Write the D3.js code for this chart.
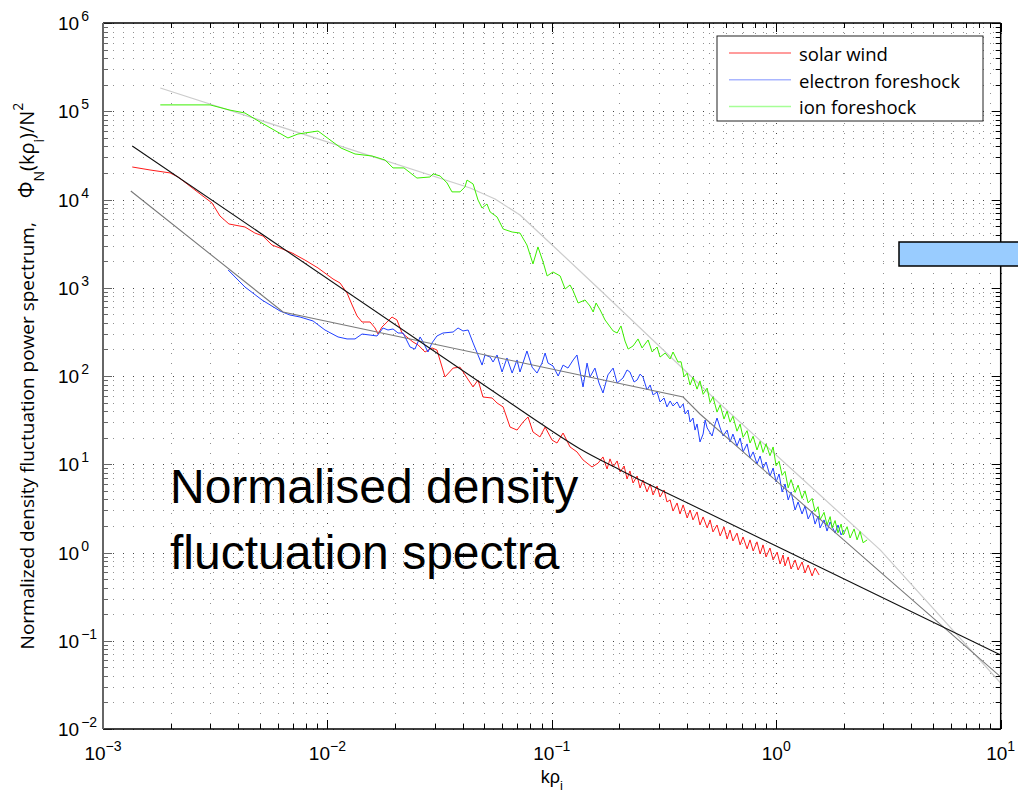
<!DOCTYPE html>
<html>
<head>
<meta charset="utf-8">
<script src="https://cdn.jsdelivr.net/npm/d3@7"></script>
<style>
  body { margin: 0; background: #fff; }
  svg { display: block; }
</style>
</head>
<body>
<div id="chart"></div>
<script>
/* Normalised density fluctuation spectra, log-log */

// axis decades (tick labels are 10^n)
const xTickExps = [-3, -2, -1, 0, 1];
const yTickExps = [-2, -1, 0, 1, 2, 3, 4, 5, 6];

// measured spectra, [k rho_i, Phi_N / N^2]
const solarWind = [
  [0.00135,2.335e4],[0.00162,2.16e4],[0.00199,2.00e4],[0.00216,1.80e4],[0.00257,1.28e4],[0.00306,9130],
  [0.00332,6500],[0.00364,5280],[0.00429,4880],[0.00475,4170],[0.00516,3860],[0.00566,3050],[0.00615,2820],
  [0.00695,2480],[0.00794,2060],[0.00908,1675],[0.01059,1257],[0.01138,1132],[0.01223,872],[0.01288,638],
  [0.01355,479],[0.01426,409],[0.01549,409],[0.0163,350],[0.0168,299],[0.0175,359],[0.01845,409],[0.0194,466],
  [0.02042,431],[0.02149,307],[0.02286,270],[0.02405,243],[0.02535,225],[0.02723,187],[0.02924,208],[0.03076,197],
  [0.03342,97.5],[0.03631,123],[0.039,126],[0.04188,95],[0.04457,75.1],[0.04688,90.1],[0.04932,57.8],[0.0542,56.3],
  [0.057,49.4],[0.06067,44.6],[0.06511,26.4],[0.06998,24.4],[0.07447,30.1],[0.07834,34.3],[0.08241,23.2],
  [0.08851,20.4],[0.09333,26.4],[0.1002,18.8],[0.1054,17.4],[0.1122,22.6],[0.1205,15.7],[0.1294,13.8],
  [0.1377,11.2],[0.151,9.31],[0.1607,10.3],[0.169,12.1],[0.1762,8.84],[0.1816,11.5],[0.1875,9.31],[0.1954,10.9],
  [0.2014,8.17],[0.2099,9.56],[0.2163,6.81],[0.2228,8.39],[0.2301,6.13],[0.2399,7.36],[0.2472,5.38],[0.2547,6.63],
  [0.2655,4.85],[0.2742,5.97],[0.2825,4.48],[0.2944,5.67],[0.3034,4.26],[0.3162,5.11],[0.3258,3.74],[0.3365,3.94],
  [0.3467,2.95],[0.3614,3.64],[0.3724,2.73],[0.3846,3.46],[0.4009,2.46],[0.413,3.03],[0.4256,2.34],[0.4436,2.88],
  [0.4571,2.05],[0.4721,2.53],[0.492,1.90],[0.507,2.34],[0.5224,1.71],[0.5445,2.05],[0.5623,1.54],[0.5848,1.95],
  [0.6039,1.42],[0.6223,1.80],[0.6412,1.35],[0.6683,1.66],[0.6899,1.22],[0.7112,1.50],[0.7412,1.10],[0.7638,1.39],
  [0.7889,1.04],[0.8204,1.32],[0.8472,0.962],[0.873,1.22],[0.9006,0.890],[0.9376,1.125],[0.9683,0.823],
  [1.009,1.01],[1.04,0.741],[1.072,0.937],[1.094,0.704],[1.13,0.890],[1.164,0.650],[1.213,0.823],[1.251,0.634],
  [1.303,0.781],[1.343,0.586],[1.387,0.722],[1.444,0.542],[1.489,0.668],[1.552,0.556]
];

const electronForeshock = [
  [0.00361,1590],[0.00429,1020],[0.00511,727],[0.00615,545],[0.00681,491],[0.00755,466],[0.00863,420],
  [0.00975,332],[0.01115,277],[0.01223,263],[0.01327,263],[0.01426,299],[0.01549,291],[0.01663,284],[0.01769,350],
  [0.01862,332],[0.0196,341],[0.02065,307],[0.02173,307],[0.02335,213],[0.02455,202],[0.02588,277],[0.02667,243],
  [0.02805,187],[0.02924,237],[0.03076,284],[0.03273,307],[0.03631,315],[0.0382,350],[0.04018,324],[0.04236,332],
  [0.04457,237],[0.04688,173],[0.04887,133],[0.05035,173],[0.05309,164],[0.0547,144],[0.057,173],[0.06,111],
  [0.0631,160],[0.06653,108],[0.06998,152],[0.07211,111],[0.07745,192],[0.08166,126],[0.0859,108],[0.09036,140],
  [0.09333,182],[0.09616,140],[0.1012,130],[0.1067,100],[0.1122,133],[0.118,123],[0.1245,152],[0.1294,173],
  [0.1337,111],[0.1377,75.1],[0.1435,140],[0.1479,97.5],[0.1556,123],[0.1622,83.3],[0.169,64.2],[0.1778,103],
  [0.1875,123],[0.1954,83.3],[0.2075,95],[0.2163,117],[0.2228,111],[0.2325,85.5],[0.2399,90.1],[0.2472,105],
  [0.2547,97.5],[0.2655,69.4],[0.2742,79.1],[0.2825,60.9],[0.2944,65.9],[0.3034,50.8],[0.3162,56.3],[0.3258,44.6],
  [0.3365,52.1],[0.3467,45.7],[0.3614,50.8],[0.3724,43.4],[0.3846,48.2],[0.3926,37.1],[0.4046,41.2],[0.413,30.1],
  [0.4256,33.4],[0.4345,24.4],[0.4436,28.6],[0.4571,17.9],[0.4721,22.0],[0.4819,31.7],[0.492,25.8],[0.5176,20.9],
  [0.5337,28.6],[0.5445,33.4],[0.5623,25.8],[0.5794,20.9],[0.6039,24.4],[0.6223,17.9],[0.6412,22.0],[0.6683,16.1],
  [0.6899,19.8],[0.7112,13.8],[0.7412,17.0],[0.7638,11.8],[0.7889,13.8],[0.8204,10.07],[0.8472,12.4],[0.873,9.07],
  [0.9006,10.6],[0.9376,7.36],[0.9683,9.07],[0.998,6.30],[1.029,7.76],[1.062,4.85],[1.094,5.97],[1.13,3.94],
  [1.164,4.85],[1.213,3.03],[1.251,3.74],[1.303,2.73],[1.343,3.37],[1.387,2.40],[1.444,2.95],[1.489,2.10],
  [1.536,2.59],[1.567,1.90],[1.633,2.34],[1.683,1.75],[1.738,2.22],[1.828,1.66],[1.884,2.05],[1.945,1.58],[2.005,1.80]
];

const ionForeshock = [
  [0.0018,1.18e5],[0.0030,1.18e5],[0.00368,1.03e5],[0.00429,9.55e4],[0.00501,7.55e4],[0.00667,4.98e4],
  [0.00739,5.52e4],[0.00908,5.97e4],[0.0115,3.83e4],[0.01327,3.28e4],[0.01581,3.11e4],[0.01807,2.80e4],
  [0.0196,2.28e4],[0.02193,2.28e4],[0.02506,1.75e4],[0.02864,1.80e4],[0.02958,1.95e4],[0.03177,1.85e4],
  [0.03412,1.54e4],[0.03589,1.22e4],[0.039,1.22e4],[0.04102,1.39e4],[0.04188,1.66e4],[0.04457,1.50e4],
  [0.04688,9870],[0.04887,8010],[0.0514,8890],[0.05309,7220],[0.057,6340],[0.06067,4630],[0.06653,4280],
  [0.07211,4170],[0.07745,3050],[0.08241,1860],[0.0867,2900],[0.09141,1960],[0.09528,1360],[0.1012,1510],
  [0.1089,1360],[0.1146,968],[0.1205,1075],[0.1245,919],[0.1309,672],[0.1406,727],[0.1479,621],[0.1528,531],
  [0.1574,672],[0.1641,560],[0.1726,431],[0.1875,324],[0.1954,307],[0.2032,369],[0.2118,249],[0.2188,202],
  [0.2301,219],[0.2421,263],[0.2523,208],[0.2685,256],[0.2799,187],[0.2944,213],[0.3034,164],[0.3199,182],
  [0.3365,156],[0.3467,187],[0.3648,144],[0.3765,145],[0.3882,98],[0.4009,108],[0.413,79],[0.4256,97],
  [0.4436,71],[0.4571,88],[0.4721,62],[0.492,73],[0.507,50],[0.5224,58],[0.5445,39],[0.5623,47],[0.5848,32.5],
  [0.6039,40],[0.6223,30],[0.6412,35],[0.6683,23.7],[0.6899,28.5],[0.7112,20.2],[0.7412,24],[0.7638,17.4],
  [0.7889,20.8],[0.8204,14.5],[0.8472,18.2],[0.873,13.6],[0.9006,17],[0.9376,12.5],[0.9683,15.7],[0.998,9.6],
  [1.029,10.8],[1.062,7.5],[1.094,8.3],[1.13,5.4],[1.164,6.7],[1.213,4.8],[1.251,5.8],[1.303,4.1],[1.343,5.0],
  [1.387,3.65],[1.444,4.1],[1.489,2.9],[1.536,3.3],[1.567,2.35],[1.633,2.85],[1.683,2.05],[1.738,2.55],
  [1.774,1.9],[1.828,2.3],[1.884,1.67],[1.945,2.1],[1.986,1.58],[2.068,1.96],[2.133,1.46],[2.222,1.85],
  [2.291,1.39],[2.362,1.73],[2.437,1.29],[2.541,1.39]
];

// fitted model spectra
const fitSolarWind = [[0.00135,4.04e4],[0.0588,59.4],[0.08851,29.3],[0.1337,14.9],[0.2014,8.61],[0.4571,3.11],[10,0.069]];
const fitElectron = [[0.00133,1.25e4],[0.00634,531],[0.3846,57.8],[0.4571,37.1],[2.904,0.602],[10,0.0389]];
const fitIon = [[0.0018,1.834e5],[0.04325,1.35e4],[0.05584,1.013e4],[0.07211,6673],[0.0982,3215],[0.1641,943],
  [0.5623,48.2],[2.904,1.07],[10,0.0332]];

const seriesNames = ["solar wind", "electron foreshock", "ion foreshock"];
const seriesColors = ["#ff1a1a", "#2040ff", "#3cee00"];
const legendColors = ["#ff7b7b", "#aab6ff", "#a6ff96"];

const width = 1018, height = 794;
const plotLeft = 103, plotRight = 1000.7, plotTop = 23, plotBottom = 729;

const x = d3.scaleLog().domain([1e-3, 10]).range([plotLeft, plotRight]);
const y = d3.scaleLog().domain([1e-2, 1e6]).range([plotBottom, plotTop]);

const svg = d3.select("#chart")
  .append("svg")
  .attr("width", width)
  .attr("height", height)
  .style("font-family", "'Liberation Sans', Arial, sans-serif");

svg.append("defs").append("clipPath").attr("id", "plotclip")
  .append("rect").attr("x", plotLeft).attr("y", plotTop)
  .attr("width", plotRight - plotLeft).attr("height", plotBottom - plotTop);

// dotted grid, major and minor
const xTicks = x.ticks();
const yTicks = y.ticks();
const isMajor = v => Math.abs(Math.log10(v) - Math.round(Math.log10(v))) < 1e-6;

const grid = svg.append("g").attr("stroke", "#222").attr("stroke-width", 1).attr("stroke-dasharray", "1,9");
grid.selectAll(".gx").data(xTicks).join("line")
  .attr("x1", d => Math.round(x(d)) + 0.5).attr("x2", d => Math.round(x(d)) + 0.5)
  .attr("y1", plotTop).attr("y2", plotBottom)
  .attr("stroke-opacity", d => isMajor(d) ? 0.85 : 0.5);
grid.selectAll(".gy").data(yTicks).join("line")
  .attr("y1", d => Math.round(y(d)) + 0.5).attr("y2", d => Math.round(y(d)) + 0.5)
  .attr("x1", plotLeft).attr("x2", plotRight)
  .attr("stroke-opacity", d => isMajor(d) ? 0.85 : 0.5);

// lines
const line = d3.line().x(d => x(d[0])).y(d => y(d[1]));
const smooth = d3.line().x(d => x(d[0])).y(d => y(d[1])).curve(d3.curveMonotoneX);

const plot = svg.append("g").attr("clip-path", "url(#plotclip)").attr("fill", "none");

plot.append("path").attr("d", line(fitIon)).attr("stroke", "#cccccc").attr("stroke-width", 1.2)
  .attr("stroke-linejoin", "round");

const spectra = [solarWind, electronForeshock, ionForeshock];
plot.selectAll(".spec").data(spectra).join("path")
  .attr("d", d => line(d))
  .attr("stroke", (d, i) => seriesColors[i])
  .attr("stroke-width", 1)
  .attr("stroke-linejoin", "round");

plot.append("path").attr("d", line(fitElectron)).attr("stroke", "#7a7a7a").attr("stroke-width", 1.1);
plot.append("path").attr("d", smooth(fitSolarWind)).attr("stroke", "#111").attr("stroke-width", 1.1);

// ticks on all four sides, pointing inwards
const ticks = svg.append("g").attr("stroke", "#000").attr("stroke-width", 1);
const tl = d => isMajor(d) ? 9 : 5;
ticks.selectAll(".tb").data(xTicks).join("line")
  .attr("x1", d => Math.round(x(d)) + 0.5).attr("x2", d => Math.round(x(d)) + 0.5)
  .attr("y1", plotBottom).attr("y2", d => plotBottom - tl(d));
ticks.selectAll(".tt").data(xTicks).join("line")
  .attr("x1", d => Math.round(x(d)) + 0.5).attr("x2", d => Math.round(x(d)) + 0.5)
  .attr("y1", plotTop).attr("y2", d => plotTop + tl(d));
ticks.selectAll(".tl").data(yTicks).join("line")
  .attr("y1", d => Math.round(y(d)) + 0.5).attr("y2", d => Math.round(y(d)) + 0.5)
  .attr("x1", plotLeft).attr("x2", d => plotLeft + tl(d)).attr("stroke", "#666");
ticks.selectAll(".tr").data(yTicks).join("line")
  .attr("y1", d => Math.round(y(d)) + 0.5).attr("y2", d => Math.round(y(d)) + 0.5)
  .attr("x1", plotRight).attr("x2", d => plotRight - tl(d));

// frame
const frame = svg.append("g").attr("stroke-width", 1.5);
frame.append("line").attr("x1", plotLeft).attr("x2", plotRight).attr("y1", plotTop).attr("y2", plotTop).attr("stroke", "#000");
frame.append("line").attr("x1", plotLeft).attr("x2", plotRight).attr("y1", plotBottom).attr("y2", plotBottom).attr("stroke", "#000");
frame.append("line").attr("x1", plotRight).attr("x2", plotRight).attr("y1", plotTop).attr("y2", plotBottom).attr("stroke", "#000");
frame.append("line").attr("x1", plotLeft).attr("x2", plotLeft).attr("y1", plotTop).attr("y2", plotBottom).attr("stroke", "#666").attr("stroke-width", 2);

// tick labels
const expText = d => d < 0 ? "\u2212" + (-d) : String(d);

svg.append("g").selectAll("text").data(xTickExps).join("text")
  .attr("x", d => x(Math.pow(10, d)))
  .attr("y", 760)
  .attr("text-anchor", "middle")
  .attr("font-size", 19)
  .each(function(d) {
    const t = d3.select(this);
    t.append("tspan").text("10");
    t.append("tspan").attr("dy", -9).attr("font-size", 14).text(expText(d));
  });

svg.append("g").selectAll("text").data(yTickExps).join("text")
  .attr("x", 58)
  .attr("y", d => y(Math.pow(10, d)) + 7)
  .attr("font-size", 19)
  .each(function(d) {
    const t = d3.select(this);
    t.append("tspan").text("10");
    t.append("tspan").attr("dx", 2).attr("dy", -9).attr("font-size", 14).text(expText(d));
  });

// x axis label
const xl = svg.append("text").attr("x", (plotLeft + plotRight) / 2).attr("y", 783)
  .attr("text-anchor", "middle").attr("font-size", 18);
xl.append("tspan").text("k\u03c1");
xl.append("tspan").attr("dy", 7).attr("font-size", 13).text("i");

// y axis label
const yl = svg.append("text")
  .attr("transform", "translate(34," + ((plotTop + plotBottom) / 2) + ") rotate(-90)")
  .attr("text-anchor", "middle")
  .attr("font-family", "'Open Sans', sans-serif")
  .attr("font-size", 19);
yl.append("tspan").text("Normalized density fluctuation power spectrum,");
yl.append("tspan").attr("dx", 24).attr("font-size", 21).text("\u03a6");
yl.append("tspan").attr("dy", 10).attr("font-size", 14).text("N");
yl.append("tspan").attr("dy", -10).attr("font-size", 20).text("(k\u03c1");
yl.append("tspan").attr("dy", 10).attr("font-size", 14).text("i");
yl.append("tspan").attr("dy", -10).attr("font-size", 20).text(")/N");
yl.append("tspan").attr("dy", -11).attr("font-size", 14).text("2");

// legend
const legend = svg.append("g");
legend.append("rect").attr("x", 717).attr("y", 36).attr("width", 266).attr("height", 85)
  .attr("fill", "#fff").attr("stroke", "#222").attr("stroke-width", 1);
const rows = legend.selectAll(".row").data(seriesNames).join("g")
  .attr("transform", (d, i) => "translate(0," + (53 + i * 26.7) + ")");
rows.append("line").attr("x1", 729).attr("x2", 791).attr("y1", 0).attr("y2", 0)
  .attr("stroke", (d, i) => legendColors[i]).attr("stroke-width", 1.5);
rows.append("text").attr("x", 799).attr("y", 8)
  .attr("font-family", "'Open Sans', sans-serif").attr("font-size", 18.5)
  .text(d => d);

// title overlay
svg.append("text").attr("x", 170).attr("y", 503).attr("font-size", 48).text("Normalised density");
svg.append("text").attr("x", 170).attr("y", 569).attr("font-size", 48).text("fluctuation spectra");

// blue box at the right edge
svg.append("rect").attr("x", 899).attr("y", 242).attr("width", 140).attr("height", 24)
  .attr("fill", "#99ccff").attr("stroke", "#000").attr("stroke-width", 1.5);
</script>
</body>
</html>
